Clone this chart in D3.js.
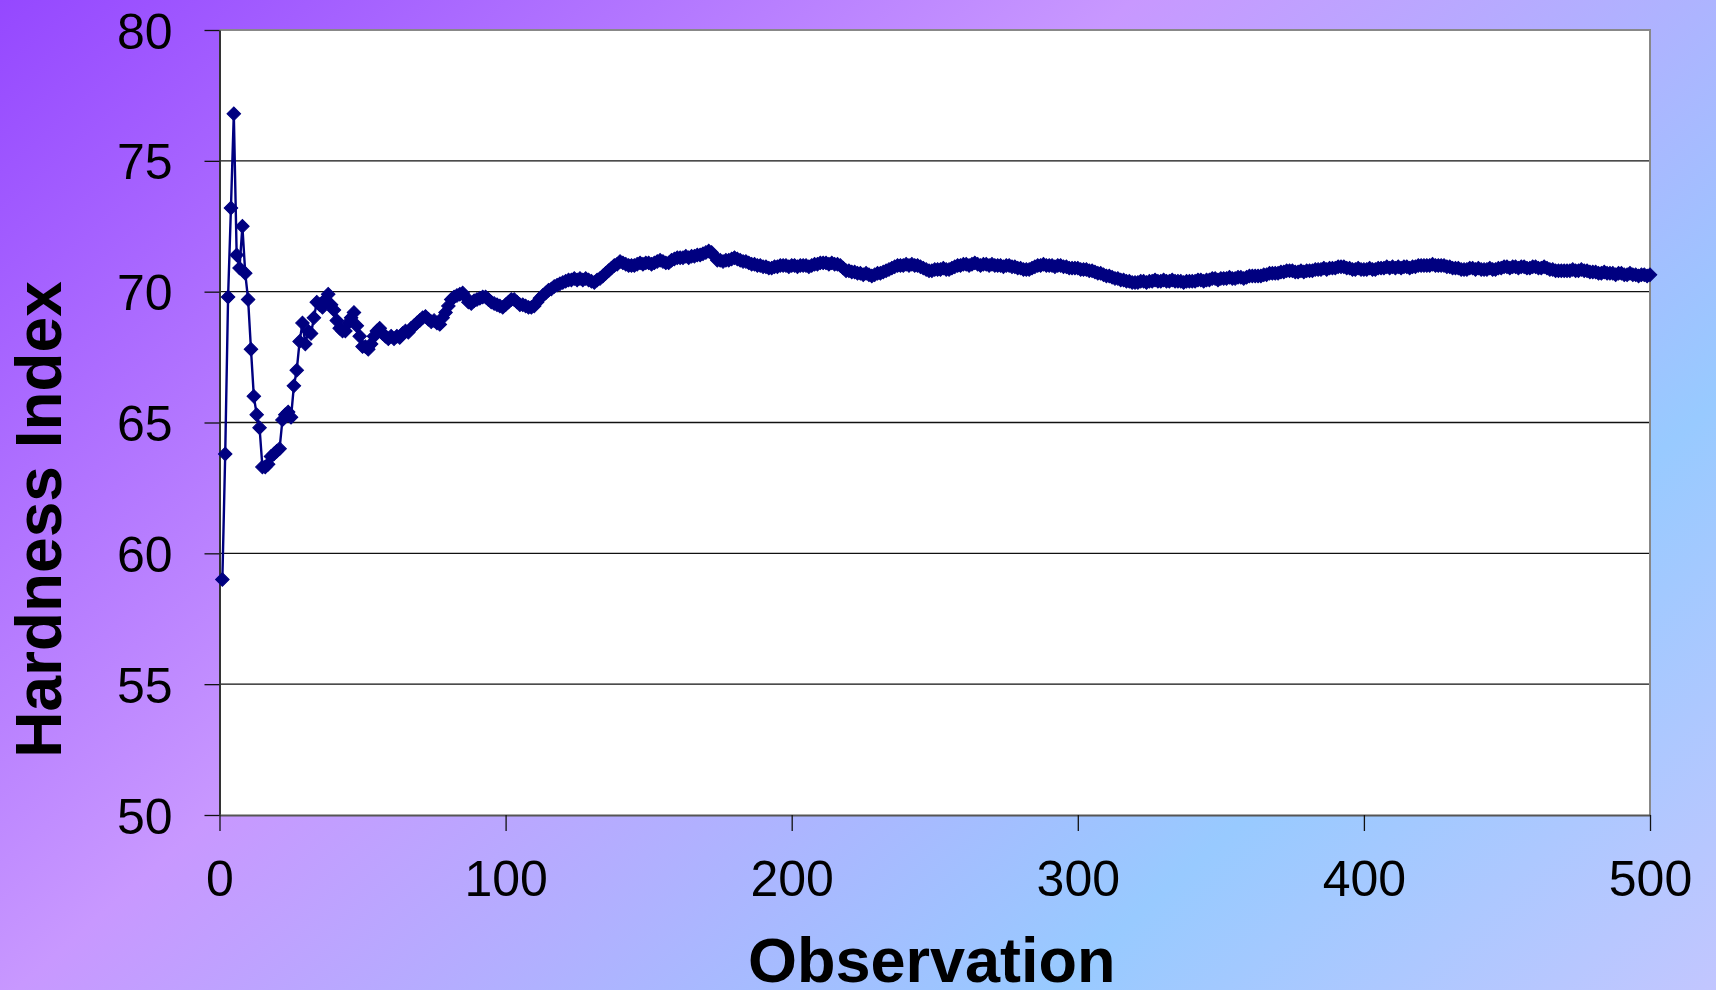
<!DOCTYPE html>
<html>
<head>
<meta charset="utf-8">
<script src="https://cdn.jsdelivr.net/npm/d3@7"></script>
<style>
  html, body { margin: 0; padding: 0; overflow: hidden; }
  svg { display: block; }
  text { font-family: "Liberation Sans", Arial, sans-serif; }
</style>
</head>
<body>
<svg id="chart" width="1716" height="990"></svg>
<script>
// ---- data ----
const xTitle = "Observation";
const yTitle = "Hardness Index";
const xTicks = [0, 100, 200, 300, 400, 500];
const yTicks = [50, 55, 60, 65, 70, 75, 80];
const xDomain = [0, 500];
const yDomain = [50, 80];

// running hardness index, observations 1..500
const hardness = [
  59.0, 63.8, 69.8, 73.2, 76.8, 71.4, 70.9, 72.5, 70.7, 69.7,
  67.8, 66.0, 65.3, 64.8, 63.3, 63.3, 63.4, 63.7, 63.8, 63.9,
  64.0, 65.1, 65.3, 65.4, 65.2, 66.4, 67.0, 68.1, 68.8, 68.0,
  68.5, 68.4, 69.0, 69.6, 69.5, 69.4, 69.7, 69.9, 69.5, 69.3,
  68.9, 68.6, 68.5, 68.5, 68.8, 69.0, 69.2, 68.7, 68.3, 67.9,
  67.9, 67.8, 68.0, 68.3, 68.5, 68.6, 68.4, 68.3, 68.2, 68.3,
  68.2, 68.3, 68.25, 68.4, 68.5, 68.45, 68.6, 68.7, 68.8, 68.9,
  69.0, 69.05, 68.95, 68.85, 68.9, 68.8, 68.75, 69.0, 69.2, 69.45,
  69.7, 69.8, 69.85, 69.9, 69.95, 69.8, 69.6, 69.55, 69.65, 69.7,
  69.75, 69.8, 69.8, 69.7, 69.6, 69.55, 69.5, 69.45, 69.4, 69.5,
  69.6, 69.7, 69.7, 69.6, 69.5, 69.5, 69.45, 69.4, 69.4, 69.45,
  69.6, 69.75, 69.85, 69.95, 70.05, 70.1, 70.2, 70.25, 70.3, 70.35,
  70.4, 70.45, 70.45, 70.5, 70.45, 70.5, 70.45, 70.5, 70.45, 70.4,
  70.35, 70.45, 70.5, 70.6, 70.7, 70.8, 70.9, 71.0, 71.05, 71.15,
  71.1, 71.05, 71.0, 71.0, 71.0, 71.05, 71.1, 71.05, 71.1, 71.1,
  71.05, 71.1, 71.15, 71.2, 71.15, 71.1, 71.1, 71.2, 71.25, 71.3,
  71.3, 71.3, 71.35, 71.3, 71.35, 71.35, 71.4, 71.4, 71.45, 71.5,
  71.55, 71.5, 71.35, 71.2, 71.2, 71.15, 71.2, 71.2, 71.25, 71.3,
  71.25, 71.2, 71.15, 71.15, 71.1, 71.05, 71.05, 71.0, 71.0, 70.95,
  70.95, 70.9, 70.9, 70.95, 70.95, 71.0, 71.0, 71.0, 70.95, 71.0,
  71.0, 70.95, 71.0, 71.0, 71.0, 70.95, 71.0, 71.05, 71.05, 71.1,
  71.1, 71.1, 71.05, 71.1, 71.05, 71.05, 71.0, 70.9, 70.8, 70.8,
  70.75, 70.75, 70.7, 70.7, 70.65, 70.7, 70.65, 70.6, 70.65, 70.7,
  70.7, 70.75, 70.8, 70.85, 70.9, 70.95, 71.0, 71.0, 71.0, 71.05,
  71.0, 71.05, 71.0, 71.0, 70.95, 70.9, 70.85, 70.8, 70.8, 70.85,
  70.85, 70.85, 70.9, 70.85, 70.85, 70.9, 70.95, 71.0, 71.0, 71.05,
  71.05, 71.0, 71.05, 71.1, 71.05, 71.0, 71.05, 71.05, 71.0, 71.05,
  71.0, 71.0, 71.0, 70.95, 71.0, 71.0, 70.95, 70.95, 70.9, 70.9,
  70.85, 70.85, 70.85, 70.9, 70.95, 71.0, 71.0, 71.05, 71.0, 71.0,
  71.0, 70.95, 71.0, 71.0, 70.95, 70.95, 70.9, 70.9, 70.9, 70.9,
  70.85, 70.85, 70.85, 70.8, 70.8, 70.75, 70.7, 70.7, 70.65, 70.6,
  70.6, 70.55, 70.5, 70.5, 70.45, 70.45, 70.4, 70.4, 70.35, 70.35,
  70.35, 70.4, 70.4, 70.35, 70.4, 70.4, 70.45, 70.4, 70.4, 70.45,
  70.4, 70.4, 70.45, 70.4, 70.4, 70.4, 70.35, 70.4, 70.4, 70.4,
  70.4, 70.45, 70.45, 70.4, 70.45, 70.45, 70.5, 70.5, 70.45, 70.5,
  70.5, 70.5, 70.55, 70.5, 70.5, 70.55, 70.55, 70.5, 70.55, 70.6,
  70.6, 70.6, 70.6, 70.6, 70.65, 70.65, 70.7, 70.7, 70.7, 70.7,
  70.75, 70.75, 70.8, 70.8, 70.8, 70.75, 70.75, 70.8, 70.75, 70.8,
  70.8, 70.8, 70.85, 70.85, 70.85, 70.9, 70.85, 70.9, 70.9, 70.9,
  70.95, 70.95, 70.95, 70.9, 70.9, 70.85, 70.85, 70.9, 70.85, 70.85,
  70.85, 70.9, 70.85, 70.85, 70.9, 70.9, 70.9, 70.95, 70.9, 70.95,
  70.9, 70.95, 70.9, 70.95, 70.95, 70.9, 70.95, 70.95, 71.0, 71.0,
  71.0, 71.0, 71.0, 71.05, 71.0, 71.0, 71.0, 71.0, 70.95, 70.95,
  70.9, 70.9, 70.9, 70.85, 70.85, 70.85, 70.9, 70.9, 70.85, 70.9,
  70.85, 70.85, 70.85, 70.9, 70.85, 70.85, 70.9, 70.9, 70.95, 70.95,
  70.9, 70.95, 70.95, 70.9, 70.95, 70.95, 70.9, 70.9, 70.95, 70.95,
  70.9, 70.9, 70.95, 70.9, 70.85, 70.85, 70.8, 70.8, 70.8, 70.8,
  70.8, 70.8, 70.85, 70.8, 70.8, 70.85, 70.8, 70.8, 70.75, 70.75,
  70.75, 70.7, 70.7, 70.75, 70.7, 70.7, 70.7, 70.65, 70.7, 70.7,
  70.65, 70.65, 70.7, 70.65, 70.65, 70.6, 70.65, 70.65, 70.6, 70.65
];

// ---- layout ----
const W = 1716, H = 990;
const plot = { left: 219.5, right: 1650, top: 30, bottom: 815 };

const svg = d3.select("#chart");

// background gradient
const defs = svg.append("defs");
const grad = defs.append("linearGradient")
  .attr("id", "bg")
  .attr("gradientUnits", "userSpaceOnUse")
  .attr("x1", 0).attr("y1", 0)
  .attr("x2", 1246).attr("y2", 1407);
[[0, "#9548ff"], [0.40, "#c898ff"], [0.765, "#98caff"], [1, "#c2c6ff"]]
  .forEach(([o, c]) => grad.append("stop").attr("offset", o).attr("stop-color", c));
svg.append("rect").attr("width", W).attr("height", H).attr("fill", "url(#bg)");

const x = d3.scaleLinear().domain(xDomain).range([plot.left, plot.right]);
const y = d3.scaleLinear().domain(yDomain).range([plot.bottom, plot.top]);

// plot area
svg.append("rect")
  .attr("x", plot.left).attr("y", plot.top)
  .attr("width", plot.right - plot.left).attr("height", plot.bottom - plot.top)
  .attr("fill", "#ffffff");

// gridlines
svg.append("g").selectAll("line")
  .data(yTicks.filter(v => v > yDomain[0] && v < yDomain[1]))
  .join("line")
  .attr("x1", plot.left).attr("x2", plot.right)
  .attr("y1", d => y(d)).attr("y2", d => y(d))
  .attr("stroke", "#111").attr("stroke-width", 1.3);

// top & right border (gray)
svg.append("path")
  .attr("d", `M${plot.left},${plot.top}H${plot.right}V${plot.bottom}`)
  .attr("fill", "none").attr("stroke", "#888").attr("stroke-width", 2);

// axes
const yAxis = d3.axisLeft(y).tickValues(yTicks).tickSizeInner(15).tickSizeOuter(0).tickPadding(32);
const gy = svg.append("g").attr("transform", `translate(${plot.left},0)`).call(yAxis);
gy.select(".domain").attr("stroke", "#333").attr("stroke-width", 2);
gy.selectAll(".tick line").attr("stroke", "#111").attr("stroke-width", 1.3);
gy.selectAll(".tick text")
  .attr("font-size", 50).attr("fill", "#000")
  .attr("font-family", "'Liberation Sans', Arial, sans-serif")
  .attr("dy", "0.36em");

const xAxis = d3.axisBottom(x).tickValues(xTicks).tickSizeInner(16).tickSizeOuter(0).tickPadding(29);
const gx = svg.append("g").attr("transform", `translate(0,${plot.bottom})`).call(xAxis);
gx.select(".domain").attr("stroke", "#555").attr("stroke-width", 2);
gx.selectAll(".tick line").attr("stroke", "#111").attr("stroke-width", 1.3);
gx.selectAll(".tick text")
  .attr("font-size", 50).attr("fill", "#000")
  .attr("font-family", "'Liberation Sans', Arial, sans-serif");

// series
const pts = hardness.map((v, i) => ({ obs: i + 1, v }));
const line = d3.line().x(d => x(d.obs)).y(d => y(d.v));
svg.append("path")
  .datum(pts)
  .attr("d", line)
  .attr("fill", "none")
  .attr("stroke", "#000080")
  .attr("stroke-width", 2.4)
  .attr("stroke-linejoin", "round");

const diamond = d3.symbol().type(d3.symbolSquare).size(92);
svg.append("g").selectAll("path")
  .data(pts)
  .join("path")
  .attr("d", diamond)
  .attr("transform", d => `translate(${x(d.obs)},${y(d.v)}) rotate(45)`)
  .attr("fill", "#000080")
  .attr("stroke", "#000080")
  .attr("stroke-width", 1);

// axis titles
svg.append("text")
  .attr("x", (plot.left + plot.right) / 2 - 3)
  .attr("y", 982)
  .attr("text-anchor", "middle")
  .attr("font-size", 63).attr("font-weight", "bold")
  .attr("fill", "#000")
  .text(xTitle);

svg.append("text")
  .attr("transform", `translate(61,${(plot.top + plot.bottom) / 2 + 97}) rotate(-90)`)
  .attr("text-anchor", "middle")
  .attr("font-size", 64).attr("font-weight", "bold")
  .attr("fill", "#000")
  .text(yTitle);
</script>
</body>
</html>
